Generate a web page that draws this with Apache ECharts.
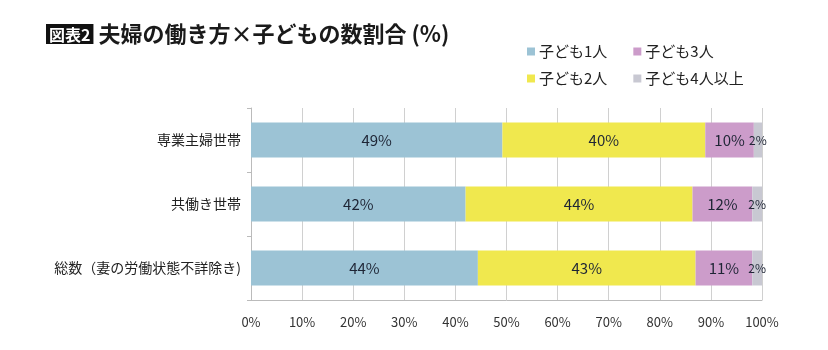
<!DOCTYPE html>
<html><head><meta charset="utf-8">
<script src="https://cdn.jsdelivr.net/npm/echarts@6/dist/echarts.min.js"></script>
<style>html,body{margin:0;padding:0;background:#fff}#c{width:828px;height:350px}</style>
</head><body><div id="c"></div>
<script>
const categories = ['専業主婦世帯', '共働き世帯', '総数（妻の労働状態不詳除き)'];
const seriesNames = ['子ども1人', '子ども2人', '子ども3人', '子ども4人以上'];
const child1 = [49.2, 42.0, 44.4];
const child2 = [39.7, 44.4, 42.6];
const child3 = [9.5, 11.7, 11.1];
const child4 = [1.6, 1.9, 1.9];
const xTicks = [0, 10, 20, 30, 40, 50, 60, 70, 80, 90, 100];
const colors = ['#9cc3d5', '#f0e84e', '#cc9cca', '#c8c8d2'];
const font = '"Noto Sans CJK JP", "Noto Sans", sans-serif';

const chart = echarts.init(document.getElementById('c'));
const values = [child1, child2, child3, child4];
chart.setOption({
  animation: false,
  textStyle: { fontFamily: font },
  title: {
    left: 41, top: 18,
    text: '{b|図表2}{t| 夫婦の働き方×子どもの数割合 (%)}',
    textStyle: {
      rich: {
        b: { backgroundColor: '#111', color: '#fff', fontSize: 16, fontWeight: 'bold', fontFamily: font, padding: [1, 3, 0, 3], height: 19, lineHeight: 19 },
        t: { color: '#1a1a1a', fontSize: 22, fontWeight: 'bold', fontFamily: font }
      }
    }
  },
  legend: [
    { left: 522, top: 39, itemWidth: 8, itemHeight: 8, itemGap: 26, icon: 'rect',
      data: [seriesNames[0], seriesNames[2]], textStyle: { fontSize: 15, color: '#222', fontFamily: font, padding: [0, 0, 0, -1] } },
    { left: 522, top: 66, itemWidth: 8, itemHeight: 8, itemGap: 26, icon: 'rect',
      data: [seriesNames[1], seriesNames[3]], textStyle: { fontSize: 15, color: '#222', fontFamily: font, padding: [0, 0, 0, -1] } }
  ],
  grid: { left: 251, right: 66, top: 108, bottom: 50, containLabel: false },
  xAxis: {
    type: 'value', min: 0, max: 100, interval: 10,
    axisLine: { show: true, lineStyle: { color: '#bbb' } },
    axisTick: { show: false },
    axisLabel: { formatter: v => xTicks.includes(v) ? v + '%' : '', fontSize: 13, color: '#333', margin: 16, fontFamily: font },
    splitLine: { show: true, lineStyle: { color: '#d0d0d0' } }
  },
  yAxis: {
    type: 'category', inverse: true, data: categories,
    axisLine: { show: true, lineStyle: { color: '#bbb' } },
    axisTick: { show: true, length: 4, lineStyle: { color: '#bbb' } },
    axisLabel: { fontSize: 14, color: '#222', margin: 10, fontFamily: font }
  },
  series: seriesNames.map((name, i) => ({
    name, type: 'bar', stack: 'total', barWidth: 35,
    itemStyle: { color: colors[i] },
    label: {
      show: true, position: 'inside',
      formatter: p => Math.round(p.value) + '%',
      fontSize: i === 3 ? 12 : 15, color: '#1e2535', fontFamily: font
    },
    data: values[i]
  }))
});
</script></body></html>
